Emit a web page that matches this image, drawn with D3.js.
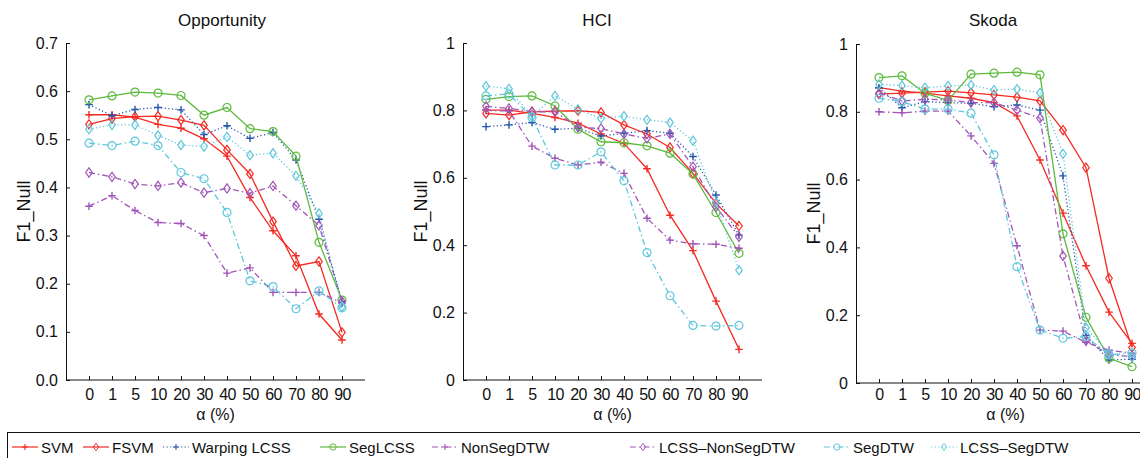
<!DOCTYPE html>
<html>
<head>
<meta charset="utf-8">
<script src="https://cdn.jsdelivr.net/npm/d3@7"></script>
<style>
  body { margin: 0; background: #fff; }
  svg text { font-family: "Liberation Sans", Arial, sans-serif; fill: #111; }
</style>
</head>
<body>
<div id="chart"></div>
<script>
  // x categories (alpha, %):
  var alphas = ["0", "1", "5", "10", "20", "30", "40", "50", "60", "70", "80", "90"];

  // series, in legend order:
  var seriesNames = ["SVM", "FSVM", "Warping LCSS", "SegLCSS", "NonSegDTW",
    "LCSS\u2013NonSegDTW", "SegDTW", "LCSS\u2013SegDTW"];

  // F1_Null values per panel, one row per series (same order as seriesNames):
  var opportunityValues = [
    [0.551, 0.551, 0.546, 0.531, 0.523, 0.501, 0.465, 0.379, 0.310, 0.258, 0.137, 0.083],
    [0.531, 0.543, 0.547, 0.548, 0.540, 0.529, 0.478, 0.428, 0.329, 0.237, 0.246, 0.099],
    [0.572, 0.549, 0.562, 0.566, 0.561, 0.510, 0.528, 0.502, 0.514, 0.457, 0.334, 0.163],
    [0.582, 0.590, 0.598, 0.596, 0.591, 0.550, 0.566, 0.522, 0.516, 0.465, 0.286, 0.166],
    [0.361, 0.383, 0.352, 0.327, 0.325, 0.300, 0.222, 0.233, 0.182, 0.182, 0.182, 0.160],
    [0.431, 0.422, 0.407, 0.403, 0.410, 0.389, 0.398, 0.388, 0.403, 0.362, 0.321, 0.163],
    [0.492, 0.487, 0.496, 0.487, 0.431, 0.418, 0.348, 0.206, 0.194, 0.148, 0.185, 0.150],
    [0.521, 0.530, 0.530, 0.508, 0.488, 0.485, 0.505, 0.467, 0.471, 0.424, 0.346, 0.152]
  ];
  var hciValues = [
    [0.801, 0.801, 0.791, 0.779, 0.762, 0.730, 0.702, 0.627, 0.489, 0.384, 0.234, 0.091],
    [0.791, 0.786, 0.796, 0.798, 0.799, 0.794, 0.757, 0.730, 0.690, 0.613, 0.524, 0.457],
    [0.752, 0.757, 0.764, 0.744, 0.747, 0.724, 0.732, 0.740, 0.732, 0.663, 0.549, 0.430],
    [0.833, 0.841, 0.843, 0.813, 0.744, 0.707, 0.704, 0.695, 0.673, 0.611, 0.497, 0.376],
    [0.800, 0.798, 0.694, 0.658, 0.638, 0.646, 0.613, 0.480, 0.415, 0.404, 0.403, 0.391],
    [0.812, 0.806, 0.796, 0.796, 0.750, 0.746, 0.730, 0.717, 0.730, 0.633, 0.514, 0.425],
    [0.843, 0.849, 0.779, 0.638, 0.638, 0.677, 0.591, 0.378, 0.250, 0.162, 0.160, 0.162],
    [0.872, 0.864, 0.783, 0.843, 0.803, 0.776, 0.783, 0.772, 0.764, 0.710, 0.526, 0.326]
  ];
  var skodaValues = [
    [0.871, 0.861, 0.855, 0.847, 0.840, 0.827, 0.788, 0.658, 0.501, 0.346, 0.209, 0.117],
    [0.852, 0.855, 0.858, 0.861, 0.856, 0.850, 0.843, 0.832, 0.746, 0.635, 0.309, 0.105],
    [0.871, 0.812, 0.830, 0.827, 0.825, 0.815, 0.820, 0.805, 0.611, 0.140, 0.068, 0.070],
    [0.901, 0.906, 0.855, 0.833, 0.911, 0.914, 0.917, 0.909, 0.440, 0.194, 0.073, 0.048],
    [0.800, 0.797, 0.802, 0.802, 0.729, 0.648, 0.405, 0.156, 0.153, 0.120, 0.097, 0.088],
    [0.855, 0.832, 0.837, 0.835, 0.827, 0.827, 0.805, 0.781, 0.375, 0.125, 0.083, 0.078],
    [0.840, 0.830, 0.808, 0.808, 0.796, 0.673, 0.343, 0.156, 0.132, 0.137, 0.083, 0.089],
    [0.881, 0.877, 0.871, 0.876, 0.879, 0.864, 0.867, 0.856, 0.676, 0.163, 0.088, 0.076]
  ];

  // y ticks per panel:
  var opportunityTicks = [0, 0.1, 0.2, 0.3, 0.4, 0.5, 0.6, 0.7];
  var unitTicks = [0, 0.2, 0.4, 0.6, 0.8, 1];

  // styles (kept apart from the data):
  var styles = [
    { color: "#f42a22", marker: "plus", dash: null },
    { color: "#f42a22", marker: "diamond", dash: null },
    { color: "#2456ad", marker: "plus", dash: "1.2,2.4" },
    { color: "#5cba3c", marker: "circle", dash: null },
    { color: "#a155b9", marker: "plus", dash: "6,3,1.5,3" },
    { color: "#a155b9", marker: "diamond", dash: "6,3,1.5,3" },
    { color: "#5ec7dc", marker: "circle", dash: "6,3,1.5,3" },
    { color: "#5ec7dc", marker: "diamond", dash: "1.2,2.4" }
  ];

  var unitFmt = function (d) { return d === 0 || d === 1 ? String(d) : d3.format(".1f")(d); };
  var panels = [
    { title: "Opportunity", values: opportunityValues, ticks: opportunityTicks, yMax: 0.7,
      tickFmt: d3.format(".1f"), left: 66, top: 43, bottom: 380, titleX: 222 },
    { title: "HCI", values: hciValues, ticks: unitTicks, yMax: 1,
      tickFmt: unitFmt, left: 463, top: 43, bottom: 380, titleX: 597 },
    { title: "Skoda", values: skodaValues, ticks: unitTicks, yMax: 1,
      tickFmt: unitFmt, left: 856, top: 44, bottom: 383, titleX: 993 }
  ];

  var width = 1140, height = 458;
  var step = 23; // pixels between categories
  var tickLabelTop = 389; // top of the x tick labels, same for all panels
  var svg = d3.select("#chart").append("svg")
    .attr("width", width)
    .attr("height", height);

  function drawMarker(g, type, color) {
    if (type === "plus") {
      g.append("path").attr("d", "M-3.8,0H3.8M0,-3.8V3.8")
        .attr("stroke", color).attr("stroke-width", 1.4).attr("fill", "none");
    } else if (type === "diamond") {
      g.append("path").attr("d", "M0,-4.6L3.3,0L0,4.6L-3.3,0Z")
        .attr("stroke", color).attr("stroke-width", 1.2).attr("fill", "none");
    } else {
      g.append("circle").attr("r", 4)
        .attr("stroke", color).attr("stroke-width", 1.2).attr("fill", "none");
    }
  }

  panels.forEach(function (p) {
    var x = d3.scaleLinear().domain([-1, 12]).range([p.left, p.left + 13 * step]);
    var y = d3.scaleLinear().domain([0, p.yMax]).range([p.bottom, p.top]);
    var g = svg.append("g");

    // axes (MATLAB style, ticks pointing inward):
    var xAxis = d3.axisBottom(x)
      .tickValues(d3.range(alphas.length))
      .tickFormat(function (i) { return alphas[i]; })
      .tickSizeInner(-4).tickSizeOuter(0).tickPadding(tickLabelTop - p.bottom);
    var xg = g.append("g").attr("transform", "translate(0," + p.bottom + ")").call(xAxis);
    var yAxis = d3.axisLeft(y)
      .tickValues(p.ticks).tickFormat(p.tickFmt)
      .tickSizeInner(-4).tickSizeOuter(0).tickPadding(8);
    var yg = g.append("g").attr("transform", "translate(" + p.left + ",0)").call(yAxis);
    [xg, yg].forEach(function (a) {
      a.selectAll("path, line").attr("stroke", "#111").attr("stroke-width", 1);
      a.selectAll("text").style("font-size", "16px").attr("fill", "#111");
    });
    xg.selectAll("text").style("letter-spacing", "-0.6px");
    // the axis spine starts at the corner:
    xg.select("path").attr("d", "M" + p.left + ",0H" + x(12));

    // titles and labels:
    g.append("text")
      .attr("x", p.titleX).attr("y", 26)
      .attr("text-anchor", "middle")
      .style("font-size", "17px")
      .text(p.title);
    g.append("text")
      .attr("x", x(5.5)).attr("y", 420)
      .attr("text-anchor", "middle")
      .style("font-size", "16px")
      .text("\u03b1 (%)");
    g.append("text")
      .attr("transform", "translate(" + (p.left - 36) + "," + ((p.top + p.bottom) / 2) + ") rotate(-90)")
      .attr("text-anchor", "middle")
      .style("font-size", "18px")
      .text("F1_Null");

    // lines and markers:
    var line = d3.line()
      .x(function (d, i) { return x(i); })
      .y(function (d) { return y(d); });
    p.values.forEach(function (vals, si) {
      var st = styles[si];
      g.append("path")
        .datum(vals)
        .attr("d", line)
        .attr("fill", "none")
        .attr("stroke", st.color)
        .attr("stroke-width", 1.3)
        .attr("stroke-dasharray", st.dash);
      vals.forEach(function (v, i) {
        var mg = g.append("g").attr("transform", "translate(" + x(i) + "," + y(v) + ")");
        drawMarker(mg, st.marker, st.color);
      });
    });
  });

  // legend box along the bottom:
  var legendItemsX = [12, 83, 163, 320, 432, 630, 824, 931];
  var legendG = svg.append("g");
  legendG.append("rect")
    .attr("x", 7.5).attr("y", 432.5)
    .attr("width", 1150).attr("height", 40)
    .attr("fill", "#fff").attr("stroke", "#111").attr("stroke-width", 1);
  seriesNames.forEach(function (name, si) {
    var st = styles[si];
    var lx = legendItemsX[si];
    var ig = legendG.append("g").attr("transform", "translate(" + lx + ",447)");
    ig.append("line")
      .attr("x1", 0).attr("x2", 26).attr("y1", 0).attr("y2", 0)
      .attr("stroke", st.color).attr("stroke-width", 1.2)
      .attr("stroke-dasharray", st.dash);
    var mg = ig.append("g").attr("transform", "translate(13,0) scale(0.8)");
    drawMarker(mg, st.marker, st.color);
    ig.append("text")
      .attr("x", 29).attr("y", 6)
      .style("font-size", "15px")
      .text(name);
  });
</script>
</body>
</html>
